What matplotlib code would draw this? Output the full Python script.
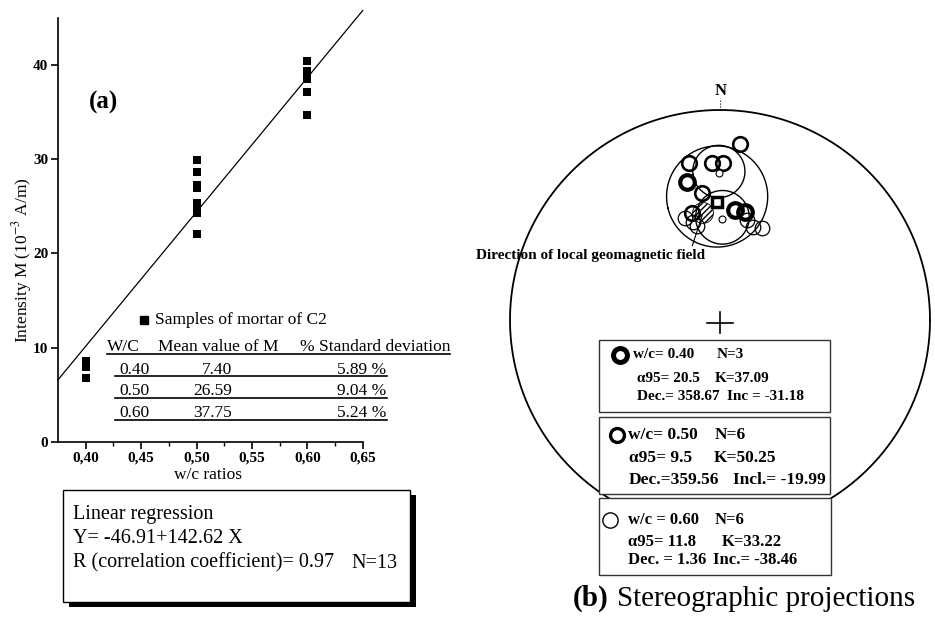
import numpy as np
import matplotlib
matplotlib.use('Agg')
import matplotlib.pyplot as plt
from matplotlib.patches import Rectangle
from matplotlib.lines import Line2D

plt.rcParams['font.family'] = ['Liberation Serif', 'DejaVu Serif']
plt.rcParams['mathtext.fontset'] = 'stix'

# ---------------- data: panel (a) ----------------
wc_ratios = [0.40, 0.50, 0.60]
M_040 = [8.6, 7.9, 6.8]
M_050 = [29.9, 28.6, 27.3, 26.9, 25.4, 24.8, 24.3, 22.1]
M_060 = [40.4, 39.4, 38.5, 37.1, 34.7]
reg_intercept = -46.91
reg_slope = 142.62
reg_R = 0.97
reg_N = 13
x_ticks = [0.40, 0.45, 0.50, 0.55, 0.60, 0.65]
x_ticklabels = ['0,40', '0,45', '0,50', '0,55', '0,60', '0,65']
y_ticks = [0, 10, 20, 30, 40]
table_header = ['W/C', 'Mean value of M', '% Standard deviation']
table_wc = ['0.40', '0.50', '0.60']
table_mean = ['7.40', '26.59', '37.75']
table_sd = ['5.89 %', '9.04 %', '5.24 %']

# ---------------- data: panel (b) ----------------
# sample directions (declination, inclination), upper hemisphere
dec_040 = [346.5, 7.8, 13.0]
inc_040 = [-21.8, -34.3, -34.3]
dec_050 = [6.5, 348.9, 357.0, 1.2, 351.8, 345.1]
inc_050 = [-9.7, -15.5, -16.3, -16.3, -27.3, -34.5]
dec_060 = [341.0, 344.6, 346.3, 19.6, 24.5, 14.9]
inc_060 = [-35.8, -38.3, -40.5, -39.5, -38.7, -37.5]
geomag_dec = 351.0
geomag_inc = -35.4
grp_wc = ['w/c= 0.40', 'w/c= 0.50', 'w/c = 0.60']
grp_N = [3, 6, 6]
grp_a95 = [20.5, 9.5, 11.8]
grp_K = [37.09, 50.25, 33.22]
grp_dec = [358.67, 359.56, 1.36]
grp_inc = [-31.18, -19.99, -38.46]
grp_dec_lbl = ['Dec.= 358.67', 'Dec.=359.56', 'Dec. = 1.36']
grp_inc_lbl = ['Inc = -31.18', 'Incl.= -19.99', 'Inc.= -38.46']

# ---------------- figure ----------------
W, H = 935, 618
fig = plt.figure(figsize=(W / 100, H / 100), dpi=100)


def F(x, y):
    return (x / W, 1 - y / H)


def ftext(x, y, s, **kw):
    fx, fy = F(x, y)
    return fig.text(fx, fy, s, **kw)


def fline(xs, ys, **kw):
    fig.add_artist(Line2D([x / W for x in xs], [1 - y / H for y in ys],
                          transform=fig.transFigure, **kw))


# ---- panel (a) axes ----
axL, axR, axB, axT = 58, 362.7, 441.7, 18
ax = fig.add_axes([axL / W, 1 - axB / H, (axR - axL) / W, (axB - axT) / H])
ax.set_xlim(0.375, 0.65)
ax.set_ylim(0, 45)
ax.patch.set_visible(False)
for s in ['top', 'right']:
    ax.spines[s].set_visible(False)
for s in ['left', 'bottom']:
    ax.spines[s].set_linewidth(1.2)
ax.set_xticks(x_ticks)
ax.set_xticklabels(x_ticklabels)
ax.set_xticks([0.425, 0.475, 0.525, 0.575, 0.625], minor=True)
ax.set_yticks(y_ticks)
ax.tick_params(axis='both', which='major', direction='out', length=5,
               width=1.2, labelsize=11, pad=2)
ax.tick_params(axis='x', which='minor', direction='out', length=3, width=1.0)
for lbl in ax.get_xticklabels() + ax.get_yticklabels():
    lbl.set_fontweight('bold')

ax.set_xlabel('w/c ratios', fontsize=12.5, va='center')
ax.xaxis.set_label_coords((208 - axL) / (axR - axL), (axB - 475) / (axB - axT))
ax.set_ylabel('Intensity M (10$^{-3}$ A/m)', fontsize=12.5, va='center')
ax.yaxis.set_label_coords((22 - axL) / (axR - axL), (axB - 260) / (axB - axT))

for w, vals in zip(wc_ratios, [M_040, M_050, M_060]):
    ax.plot([w] * len(vals), vals, 's', color='black', ms=5.8, mew=0,
            clip_on=False, zorder=3)

xl = np.array([0.375, 0.65])
ax.plot(xl, reg_intercept + reg_slope * xl, color='black', lw=0.9,
        clip_on=False)

ftext(104, 102, '(a)', fontsize=18, fontweight='bold', ha='center',
      va='center')

# legend
fig.add_artist(Line2D([144 / W], [1 - 320 / H], marker='s', ms=6,
                      color='black', ls='none', transform=fig.transFigure))
ftext(155, 320, 'Samples of mortar of C2', fontsize=12.5, va='center')

# table
ftext(107, 351, table_header[0], fontsize=12.5, va='baseline')
ftext(158, 351, table_header[1], fontsize=12.5, va='baseline')
ftext(450, 351, table_header[2], fontsize=12.5, va='baseline', ha='right')
fline([107, 450], [354, 354], color='black', lw=1.2)
row_under = [376, 397.5, 419.5]
for wc, mv, sd, yu in zip(table_wc, table_mean, table_sd, row_under):
    ftext(119, yu - 2.5, wc, fontsize=12.5, va='baseline')
    ftext(232, yu - 2.5, mv, fontsize=12.5, va='baseline', ha='right')
    ftext(386, yu - 2.5, sd, fontsize=12.5, va='baseline', ha='right')
    fline([115, 387], [yu, yu], color='black', lw=1.2)

# regression box with shadow
bx0, by0, bx1, by1 = 63, 490, 410, 602
fig.add_artist(Rectangle(F(bx0 + 6, by1 + 5), (bx1 - bx0) / W,
                         (by1 - by0) / H, transform=fig.transFigure,
                         facecolor='black', edgecolor='black', lw=0))
fig.add_artist(Rectangle(F(bx0, by1), (bx1 - bx0) / W, (by1 - by0) / H,
                         transform=fig.transFigure, facecolor='white',
                         edgecolor='black', lw=1.0))
ftext(73, 519.3, 'Linear regression', fontsize=14.5, va='baseline')
ftext(73, 543.3, f'Y= {reg_intercept:.2f}+{reg_slope:.2f} X', fontsize=14.5,
      va='baseline')
ftext(73, 567.7, f'R (correlation coefficient)= {reg_R:.2f}', fontsize=14.5,
      va='baseline')
ftext(351.7, 567.7, f'N={reg_N}', fontsize=14.5, va='baseline')

# ---- panel (b) stereonet ----
CX, CY, R = 720, 320, 210
nL, nR = 440, 935
ax2 = fig.add_axes([nL / W, 0, (nR - nL) / W, 1])
ax2.set_xlim((nL - CX) / R, (nR - CX) / R)
ax2.set_ylim((CY - H) / R, CY / R)
ax2.axis('off')


def vec(dec, inc):
    d, i = np.radians(dec), np.radians(inc)
    return np.array([np.cos(i) * np.cos(d), np.cos(i) * np.sin(d), np.sin(i)])


def proj_vec(v):
    # stereographic (Wulff) projection, upper hemisphere (z down negative)
    n, e, z = v
    return e / (1 - z), n / (1 - z)


def proj(dec, inc):
    dec = np.atleast_1d(dec)
    inc = np.atleast_1d(inc)
    pts = [proj_vec(vec(d, i)) for d, i in zip(dec, inc)]
    return np.array([p[0] for p in pts]), np.array([p[1] for p in pts])


def cone(dec, inc, a95):
    m = vec(dec, inc)
    u = np.cross(m, [0, 0, 1.0])
    u /= np.linalg.norm(u)
    v = np.cross(m, u)
    phi = np.linspace(0, 2 * np.pi, 200)
    a = np.radians(a95)
    pts = (np.cos(a) * m[:, None] + np.sin(a) *
           (np.cos(phi) * u[:, None] + np.sin(phi) * v[:, None]))
    return proj_vec(pts)


t = np.linspace(0, 2 * np.pi, 400)
ax2.plot(np.cos(t), np.sin(t), color='black', lw=1.3)
ax2.plot([0, 0], [1.0, 1.055], color='black', lw=0.8, ls=':')
ax2.text(0.005, (CY - 91) / R, 'N', fontsize=12, fontweight='bold',
         ha='center', va='center')
ax2.plot([-0.063, 0.063], [-0.012, -0.012], color='black', lw=1.2)
ax2.plot([0, 0], [-0.06, 0.036], color='black', lw=1.2)

# alpha95 circles
for d, i, a in zip(grp_dec, grp_inc, grp_a95):
    cx, cy = cone(d, i, a)
    ax2.plot(cx, cy, color='black', lw=1.0)

# samples
x, y = proj(dec_060, inc_060)
ax2.plot(x, y, 'o', ms=10.5, mfc='none', mec='black', mew=0.9)
x, y = proj(dec_050, inc_050)
ax2.plot(x, y, 'o', ms=10.5, mfc='none', mec='black', mew=1.9)
x, y = proj(dec_040, inc_040)
ax2.plot(x, y, 'o', ms=10.5, mfc='none', mec='black', mew=3.0)

# means
x, y = proj(grp_dec[0], grp_inc[0])
ax2.plot(x, y, 's', ms=7, mfc='white', mec='black', mew=2.5)
x, y = proj(grp_dec[1:], grp_inc[1:])
ax2.plot(x, y, 'o', ms=5, mfc='white', mec='black', mew=0.8)

# local geomagnetic field
gx, gy = proj(geomag_dec, geomag_inc)
ax2.scatter(gx, gy, s=15 ** 2, facecolor='none', edgecolor='black',
            hatch='//////', lw=0.6)
ax2.annotate('Direction of local geomagnetic field', xy=(gx[0], gy[0]),
             xytext=(476 / W, 1 - 255 / H), textcoords='figure fraction',
             fontsize=11, fontweight='bold', ha='left', va='center',
             arrowprops=dict(arrowstyle='-', lw=0.8, color='black',
                             relpos=(0.94, 1.0), shrinkA=0, shrinkB=2))

# info boxes
boxes = [(599, 340, 830, 412), (599, 417, 830, 494), (599, 498, 831, 575)]
line_y = [(355, 378.3, 396.7), (435, 458.3, 480), (520, 541.7, 560)]
col1 = [(632.7, 637, 637), (628.3, 629.3, 629), (628.3, 628.3, 628.3)]
col2 = [(716.7, 715, 726.7), (715, 713.3, 732.7), (715, 721.7, 713.3)]
fsz = [11, 12.5, 12]
sym = [((620, 355), 'o', 10, 3.6), ((616.7, 435), 'o', 10, 2.4),
       ((610, 520), 'o', 11, 1.0)]
for k in range(3):
    x0, y0, x1, y1 = boxes[k]
    fig.add_artist(Rectangle(F(x0, y1), (x1 - x0) / W, (y1 - y0) / H,
                             transform=fig.transFigure, facecolor='white',
                             edgecolor='#333333', lw=1.0, zorder=2))
    (sx, sy), mk, ms, mw = sym[k]
    fig.add_artist(Line2D([sx / W], [1 - sy / H], marker=mk, ms=ms, mew=mw,
                          mfc='none', mec='black', ls='none',
                          transform=fig.transFigure, zorder=3))
    texts1 = [grp_wc[k], f'\u03b195= {grp_a95[k]}', grp_dec_lbl[k]]
    texts2 = [f'N={grp_N[k]}', f'K={grp_K[k]:.2f}', grp_inc_lbl[k]]
    for j in range(3):
        ftext(col1[k][j], line_y[k][j], texts1[j], fontsize=fsz[k],
              fontweight='bold', va='center', zorder=4)
        ftext(col2[k][j], line_y[k][j], texts2[j], fontsize=fsz[k],
              fontweight='bold', va='center', zorder=4)

ftext(573, 606, '(b)', fontsize=21, fontweight='bold', va='baseline')
ftext(617, 606, 'Stereographic projections', fontsize=21, va='baseline')

fig.savefig('out.png', dpi=100)
